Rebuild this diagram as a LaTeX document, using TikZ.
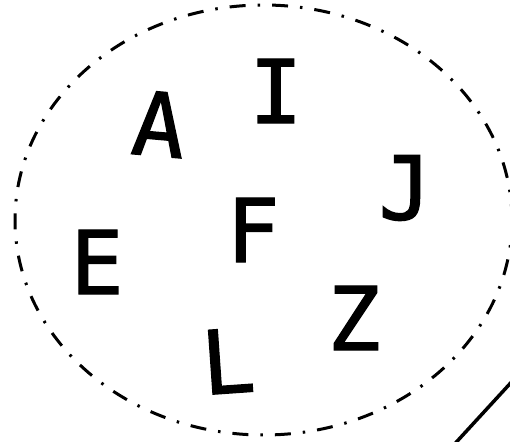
\documentclass[tikz,border=0pt]{standalone}
\usepackage{fontspec}
\newfontfamily\letterfont[FakeBold=1.5]{DejaVu Sans Mono}
\begin{document}
\begin{tikzpicture}[x=1pt,y=1pt,
  letter/.style={font=\letterfont\fontsize{88}{90}\selectfont, inner sep=0pt, anchor=center},
  dashdot/.style={line width=3pt, dash pattern=on 16pt off 12pt on 2.5pt off 12pt},
  solidline/.style={line width=3.5pt}]
\useasboundingbox (0,0) rectangle (510,441);
\clip (0,0) rectangle (510,441);
\draw[dashdot] (263.5,221) ellipse [x radius=248.5, y radius=215];
\node[letter, rotate=-5] (A) at (159,317) {A};
\node[letter] (I) at (276,350) {I};
\node[letter] (J) at (405,253) {J};
\node[letter] (F) at (253,211) {F};
\node[letter] (E) at (97,179) {E};
\node[letter] (Z) at (354,123) {Z};
\node[letter, rotate=4] (L) at (228,80) {L};
\coordinate (l1) at (450,-8);
\coordinate (l2) at (540,90);
\draw[solidline] (l1) -- (l2);
\end{tikzpicture}
\end{document}
